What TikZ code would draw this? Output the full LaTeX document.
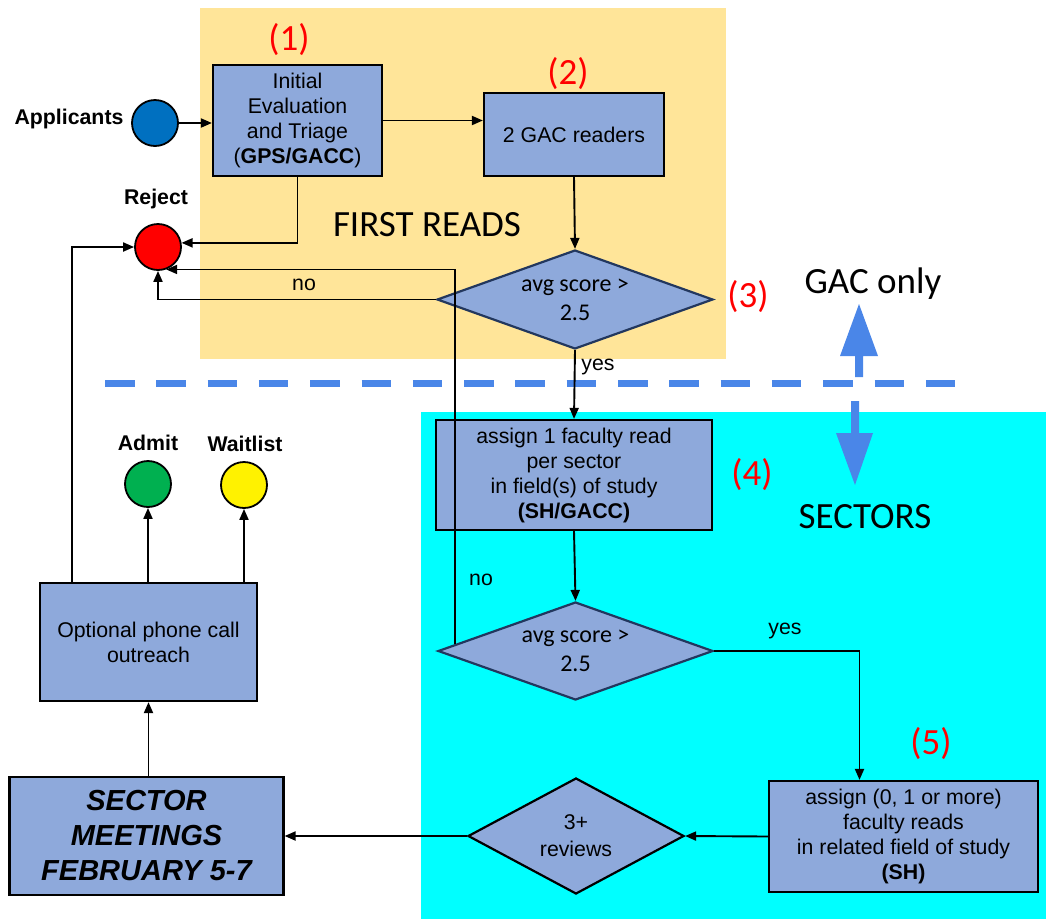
\documentclass[tikz,border=0pt]{standalone}
\usepackage{fontspec}
\setmainfont{Liberation Sans}
\newfontfamily\calib{Carlito}
\usetikzlibrary{arrows.meta,shapes.geometric,calc}
\definecolor{boxfill}{HTML}{8EA9DB}
\definecolor{bgyellow}{HTML}{FFE599}
\definecolor{bgcyan}{HTML}{00FFFF}
\definecolor{gblue}{HTML}{4A86E8}
\definecolor{appblue}{HTML}{0070C0}
\definecolor{admgreen}{HTML}{00B050}
\definecolor{dnavy}{HTML}{22375E}
\tikzset{
  box/.style={draw=black, line width=2.2pt, fill=boxfill, align=center, inner sep=0pt,
    font=\fontsize{21.3}{25}\selectfont},
  dia/.style={diamond, draw=dnavy, line width=2.2pt, fill=boxfill, align=center, inner sep=0pt,
    font=\calib\fontsize{24}{29}\selectfont},
  dot/.style={circle, draw=black, line width=1.8pt, minimum size=46pt, inner sep=0pt},
  lab/.style={font=\fontsize{21.3}{25}\selectfont\bfseries, inner sep=0pt},
  small/.style={font=\fontsize{21.3}{25}\selectfont, inner sep=0pt},
  redno/.style={font=\calib\fontsize{37}{40}\selectfont, text=red, inner sep=0pt},
  big/.style={font=\calib\fontsize{37}{40}\selectfont, inner sep=0pt},
  conn/.style={draw=black, line width=1.9pt, -{Triangle[length=11pt,width=9pt]}},
}
\begin{document}
\begin{tikzpicture}[x=1pt,y=-1pt]
\useasboundingbox (0,0) rectangle (1046,919);
% backgrounds
\fill[bgyellow] (200,8) rectangle (726,359);
\fill[bgcyan] (421,412) rectangle (1046,919);
\draw[gblue, line width=7pt, dash pattern=on 29.5pt off 21.8pt] (105,383) -- (956,383);
% big blue arrows
\fill[gblue] (855,377) -- (855,356) -- (840,356) -- (859,304) -- (878,356) -- (863,356) -- (863,377) -- cycle;
\fill[gblue] (851,401) -- (851,433) -- (836,433) -- (855,485) -- (873,433) -- (859,433) -- (859,401) -- cycle;
% region texts
\node[big, anchor=base] (firstreads) at (427,236) {FIRST READS};
\node[big, anchor=base] (gaconly) at (873,293) {GAC only};
\node[big, anchor=base] (sectors) at (865,528) {SECTORS};
% step numbers
\node[redno] (n1) at (289,40) {(1)};
\node[redno] (n2) at (568,74) {(2)};
\node[redno] (n3) at (748,297) {(3)};
\node[redno] (n4) at (752,475) {(4)};
\node[redno] (n5) at (931,744) {(5)};
% boxes
\node[box, minimum width=169pt, minimum height=111pt] (eval) at (297.5,120.5)
  {Initial\\Evaluation\\and Triage\\(\textbf{GPS/GACC})};
\node[box, minimum width=180pt, minimum height=83pt] (readers) at (574,134.5) {2 GAC readers};
\node[box, minimum width=276pt, minimum height=110pt] (sect1) at (574,475)
  {assign 1 faculty read\\per sector\\in field(s) of study\\\textbf{(SH/GACC)}};
\node[box, minimum width=269pt, minimum height=111pt] (rel) at (903.5,836.5)
  {assign (0, 1 or more)\\faculty reads\\in related field of study\\\textbf{(SH)}};
\node[box, minimum width=217pt, minimum height=118pt] (phone) at (148.5,642)
  {Optional phone call\\outreach};
\node[box, minimum width=274pt, minimum height=118pt,
  font=\fontsize{29}{35}\selectfont\bfseries\itshape] (sector) at (146.5,836)
  {SECTOR\\MEETINGS\\FEBRUARY 5-7};
% diamonds
\node[dia, minimum width=276pt, minimum height=99pt, shape aspect=2.79] (d1) at (575,299.5) {avg score >\\2.5};
\node[dia, minimum width=275pt, minimum height=98pt, shape aspect=2.79] (d2) at (575.5,651) {avg score >\\2.5};
\node[dia, draw=black, minimum width=216pt, minimum height=116pt, shape aspect=1.86,
  font=\fontsize{21.3}{27}\selectfont] (d3) at (576,836) {3+\\reviews};
% circles
\node[dot, fill=appblue] (appl) at (155,123) {};
\node[dot, fill=red] (reject) at (158,247) {};
\node[dot, fill=admgreen] (admit) at (148,484) {};
\node[dot, fill=yellow] (wait) at (244,485) {};
\node[lab] (applab) at (69,119) {Applicants};
\node[lab] (rejlab) at (156,199) {Reject};
\node[lab] (admlab) at (148,443) {Admit};
\node[lab] (waitlab) at (245,444) {Waitlist};
% connectors
\draw[conn] (appl.east) -- (eval.west |- appl.east);
\draw[conn] (eval.east) -- (eval.east -| readers.west);
\draw[conn] (readers.south) -- (d1.north);
\draw[conn] (eval.south) |- (reject.10);
\draw[conn] (d1.west) -| (reject.south);
\node[small] (no1) at (304,285) {no};
\draw[conn] ($(d2.west)!0.13!(d2.north)$) |- (reject.-70);
\node[small] (no2) at (481,580) {no};
\draw[conn] (d1.south) -- (sect1.north);
\node[small] (yes1) at (598,367) {yes};
\draw[conn] (sect1.south) -- (d2.north);
\draw[conn] (d2.east) -| ($(rel.north)+(-44,0)$);
\node[small] (yes2) at (785,631) {yes};
\draw[conn] (rel.west) -- (d3.east);
\draw[conn] (d3.west) -- (sector.east |- d3.west);
\draw[conn] (phone.south |- sector.north) -- (phone.south);
\draw[conn] (admit.south |- phone.north) -- (admit.south);
\draw[conn] (wait.south |- phone.north) -- (wait.south);
\draw[conn] ($(phone.north west)+(33,0)$) |- (reject.west);
\end{tikzpicture}
\end{document}
